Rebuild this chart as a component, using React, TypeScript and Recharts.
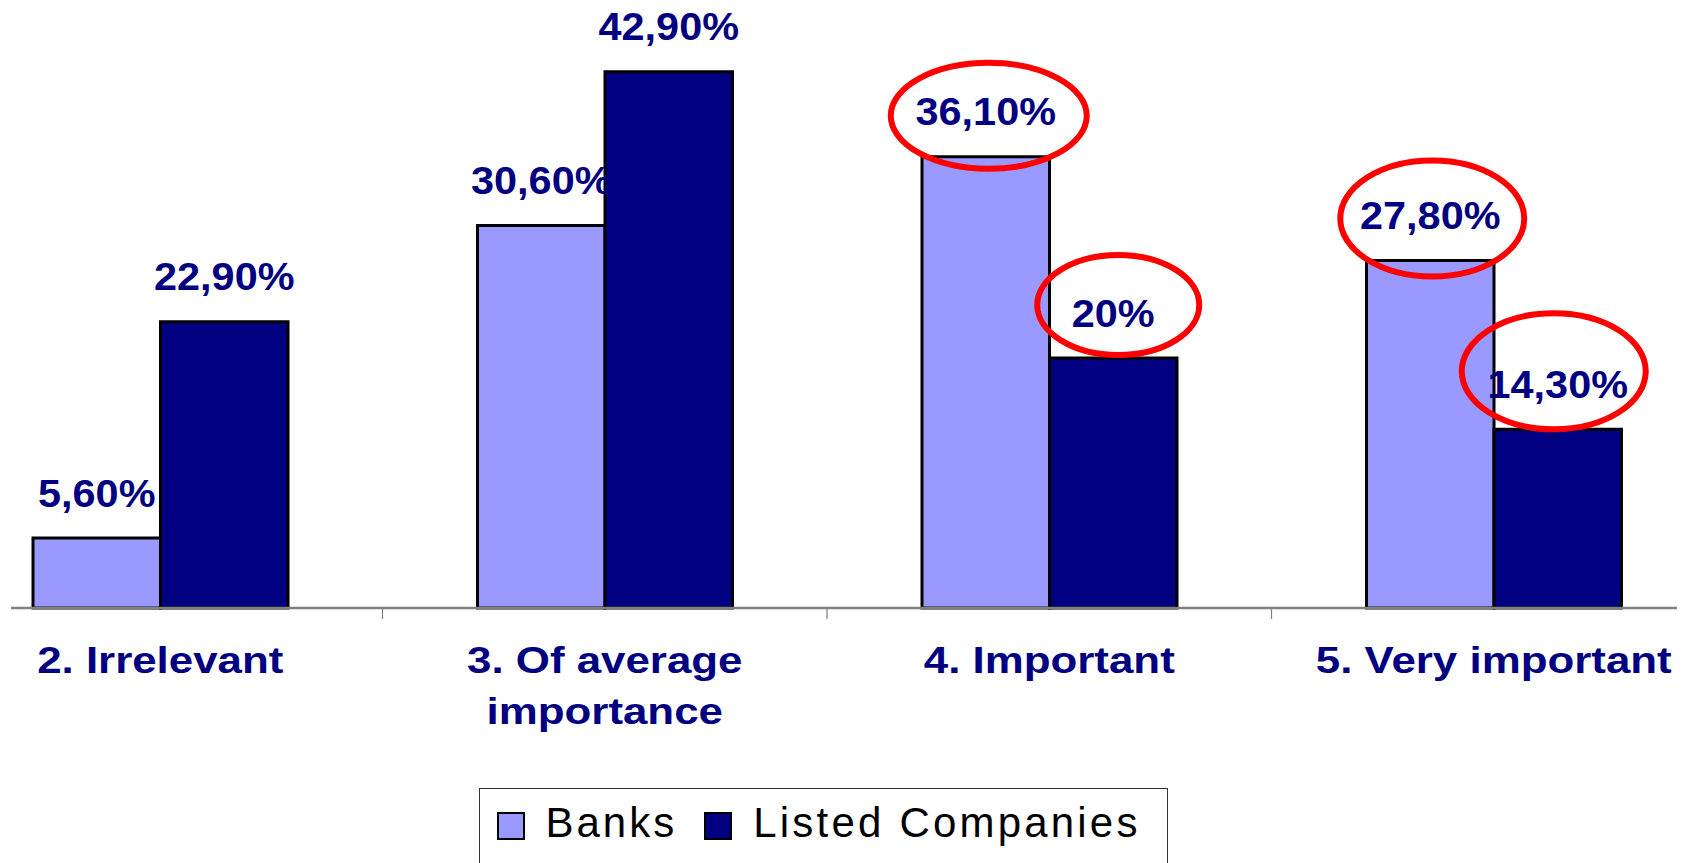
import React from 'react';
import { BarChart, Bar, XAxis, YAxis, Legend, LabelList } from 'recharts';

const categories = ['2. Irrelevant', '3. Of average\nimportance', '4. Important', '5. Very important'];
const banks = [5.6, 30.6, 36.1, 27.8];
const listedCompanies = [22.9, 42.9, 20, 14.3];

const data = categories.map((name, i) => ({ name, banks: banks[i], listed: listedCompanies[i] }));

const W = 1694;
const H = 863;
const MARGIN = { top: 8, right: 17, left: 11, bottom: 195 };
const AXIS_H = 60;
// the original picture is cropped, so the category bands run past both edges
const PAD_L = -73;
const PAD_R = -39;
const BAND = (W - MARGIN.left - MARGIN.right - PAD_L - PAD_R) / categories.length;

const NAVY = '#000080';
const FONT = '"Liberation Sans", Arial, Helvetica, sans-serif';

// red rings drawn round some labels, offset from the top centre of the bar
const rings: Record<string, { dx: number; dy: number; rx: number; ry: number }> = {
  'banks-2': { dx: 3, dy: -41, rx: 98, ry: 53 },
  'listed-2': { dx: 5, dy: -53, rx: 81, ry: 50 },
  'banks-3': { dx: 2, dy: -42, rx: 92, ry: 58 },
  'listed-3': { dx: -4, dy: -58, rx: 92, ry: 58 },
};

const fmt = (v: number) => (Number.isInteger(v) ? `${v}%` : `${v.toFixed(2).replace('.', ',')}%`);

const valueLabel = (key: string) => (props: any) => {
  const vb = props.viewBox || {};
  const x = Number(props.x ?? vb.x);
  const y = Number(props.y ?? vb.y);
  const w = Number(props.width ?? vb.width);
  const cx = x + w / 2;
  const ring = rings[`${key}-${props.index}`];
  return (
    <g>
      <text
        transform={`translate(${cx},${y - 31.5}) scale(1.09,1)`}
        textAnchor="middle"
        fill={NAVY}
        fontFamily={FONT}
        fontWeight="bold"
        fontSize={38}
      >
        {fmt(Number(props.value))}
      </text>
      {ring && (
        <ellipse cx={cx + ring.dx} cy={y + ring.dy} rx={ring.rx} ry={ring.ry} fill="none" stroke="#FF0000" strokeWidth={6} />
      )}
    </g>
  );
};

const CategoryTick = (props: any) => {
  const { x, y, payload } = props;
  const lines = String(payload.value).split('\n');
  const edge = x - BAND / 2;
  return (
    <g>
      {edge > 0 && <line x1={edge} y1={y} x2={edge} y2={y + 11} stroke="#808080" strokeWidth={1.2} />}
      {lines.map((line, i) => (
        <text
          key={i}
          transform={`translate(${x},${y + 65 + i * 50.5}) scale(1.17,1)`}
          textAnchor="middle"
          fill={NAVY}
          fontFamily={FONT}
          fontWeight="bold"
          fontSize={37.5}
        >
          {line}
        </text>
      ))}
    </g>
  );
};

const LegendBox = (props: any) => {
  const payload = props.payload || [];
  return (
    <div
      style={{
        boxSizing: 'border-box',
        width: 689,
        height: 120,
        border: '1.5px solid #333',
        background: '#fff',
        display: 'flex',
        alignItems: 'flex-start',
        paddingLeft: 16.5,
        paddingTop: 12.9,
        fontFamily: FONT,
        fontSize: 42,
        lineHeight: '42px',
        color: '#000',
      }}
    >
      {payload.map((p: any, i: number) => (
        <div key={i} style={{ display: 'flex', alignItems: 'flex-start', marginRight: 27 }}>
          <span
            style={{
              display: 'inline-block',
              boxSizing: 'border-box',
              width: 28,
              height: 28,
              background: p.color,
              border: '2.5px solid #000',
              marginTop: 10.6,
              marginRight: 21,
            }}
          />
          <span style={{ letterSpacing: i === 0 ? 3 : 3.2, whiteSpace: 'nowrap' }}>{p.value}</span>
        </div>
      ))}
    </div>
  );
};

export default function App() {
  return (
    <div style={{ position: 'fixed', left: 0, top: 0, width: W, height: H, overflow: 'hidden', background: '#fff' }}>
      <BarChart width={W} height={H} data={data} margin={MARGIN} barGap={0}>
        <XAxis
          dataKey="name"
          padding={{ left: PAD_L, right: PAD_R }}
          axisLine={{ stroke: '#808080', strokeWidth: 2.5 }}
          tickLine={false}
          tickSize={0}
          tickMargin={0}
          tick={<CategoryTick />}
          interval={0}
          height={AXIS_H}
        />
        <YAxis hide domain={[0, 48]} />
        <Legend
          layout="horizontal"
          verticalAlign="middle"
          align="center"
          wrapperStyle={{ top: 788, left: 479, width: 689, height: 120 }}
          content={<LegendBox />}
        />
        <Bar dataKey="banks" name="Banks" fill="#9999FF" stroke="#000" strokeWidth={3} barSize={127.5} isAnimationActive={false}>
          <LabelList dataKey="banks" content={valueLabel('banks')} />
        </Bar>
        <Bar dataKey="listed" name="Listed Companies" fill="#000080" stroke="#000" strokeWidth={3} barSize={127.5} isAnimationActive={false}>
          <LabelList dataKey="listed" content={valueLabel('listed')} />
        </Bar>
      </BarChart>
    </div>
  );
}
